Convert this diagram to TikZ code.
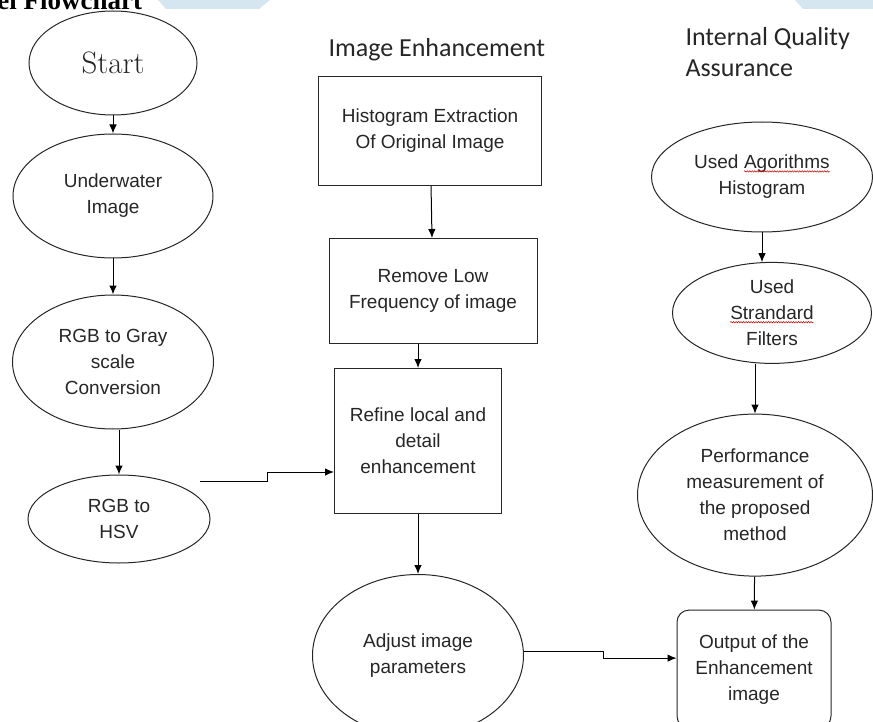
\documentclass[tikz,border=0pt]{standalone}
\usepackage{fontspec}
\newfontfamily\arialfont{Liberation Sans}
\newfontfamily\calibrifont{Carlito}
\newfontfamily\timesfont{Liberation Serif}
\usetikzlibrary{positioning}
\usetikzlibrary{shapes.geometric}
\usetikzlibrary{arrows.meta}
\usetikzlibrary{decorations.pathmorphing}
\definecolor{bannerblue}{RGB}{213,230,240}

% red wavy spell-check mark under a word
\newcommand\spellmark[1]{\tikz[baseline=(w.base)]{\node[shape=rectangle, draw=none, inner sep=0pt, outer sep=0pt, minimum width=0pt, minimum height=0pt] (w) {#1};
  \draw[red!80!black, line width=0.5pt, decorate, decoration={snake, amplitude=0.7pt, segment length=2.5pt}] ([yshift=-2.5pt]w.base west) -- ([yshift=-2.5pt]w.base east);}}

\begin{document}
\begin{tikzpicture}[x=1pt, y=-1pt, >={Latex[length=9pt,width=7.5pt]},
    line width=1pt,
    oval/.style={draw=black!85, ellipse, inner sep=0pt, align=center, text=black!85,
      font=\arialfont\fontsize{19}{26}\selectfont},
    stage/.style={draw=black!85, rectangle, inner sep=0pt, align=center, text=black!85,
      font=\arialfont\fontsize{19}{26}\selectfont},
    heading/.style={anchor=base west, inner sep=0pt, align=left, text=black!85,
      font=\calibrifont\fontsize{26}{31}\selectfont},
    ]

    % page and the cut-off header
    \useasboundingbox (0,0) rectangle (873,722);
    \fill[bannerblue] (158,0) -- (270,0) -- (259,9) -- (166,9) -- cycle;
    \fill[bannerblue] (795,0) -- (873,0) -- (873,9) -- (803,9) -- cycle;
    \node[anchor=base west, inner sep=0pt, font=\timesfont\bfseries\fontsize{27}{30}\selectfont] (title) at (-3,10) {el Flowchart};

    % left column
    \node[oval, minimum width=168pt, minimum height=104pt, font=\rmfamily\fontsize{31}{36}\selectfont] (start) at (113,63) {Start};
    \node[oval, minimum width=200pt, minimum height=124pt, below=18pt of start] (water) {Underwater\\Image};
    \node[oval, minimum width=201pt, minimum height=134pt, below=36pt of water] (gray) {RGB to Gray\\scale\\Conversion};
    \node[oval, minimum width=182pt, minimum height=88pt, below=45pt of gray, xshift=6pt] (hsv) {RGB to\\HSV};

    % middle column
    \node[heading] (enhlabel) at (328,57) {Image Enhancement};
    \node[stage, minimum width=223pt, minimum height=109pt] (hist) at (430,131) {Histogram Extraction\\Of Original Image};
    \node[stage, minimum width=208pt, minimum height=105pt, below=52pt of hist, xshift=3pt] (lowfreq) {Remove Low\\Frequency of image};
    \node[stage, minimum width=167pt, minimum height=145pt, below=24pt of lowfreq, xshift=-15pt] (refine) {Refine local and\\detail\\enhancement};
    \node[oval, minimum width=211pt, minimum height=162pt, below=60pt of refine] (adjust) {Adjust image\\parameters};

    % right column
    \node[heading] (qalabel) at (685,77) {Internal Quality\\Assurance};
    \node[oval, minimum width=221pt, minimum height=110pt] (algo) at (762,177) {Used \spellmark{Agorithms}\\Histogram};
    \node[oval, minimum width=199pt, minimum height=101pt, below=30pt of algo, xshift=10pt] (filters) {Used\\\spellmark{Strandard}\\Filters};
    \node[oval, minimum width=235pt, minimum height=162pt, below=50pt of filters, xshift=-17pt] (perf) {Performance\\measurement of\\the proposed\\method};
    \node[stage, rounded corners=12pt, minimum width=154pt, minimum height=118pt, below=33pt of perf, xshift=-1pt] (output) {Output of the\\Enhancement\\image};

    \draw[->] (start) -- (water);
    \draw[->] (water) -- (gray);
    \draw[->] (gray.south -| hsv.north) -- (hsv.north);
    \draw[->] ([xshift=16pt,yshift=6pt]hsv.north east) -- ++(68,0) |- ([yshift=-31pt]refine.west);

    \draw[->] (hist) -- (lowfreq);
    \draw[->] (lowfreq.south -| refine.north) -- (refine.north);
    \draw[->] (refine) -- (adjust);
    \draw[->] ([yshift=4pt]adjust.east) -- ++(79,0) |- ([yshift=11pt]output.west);

    \draw[->] (algo) -- (algo |- filters.north);
    \draw[->] (perf.north |- filters.south) -- (perf.north);
    \draw[->] (perf) -- (output);
\end{tikzpicture}
\end{document}
